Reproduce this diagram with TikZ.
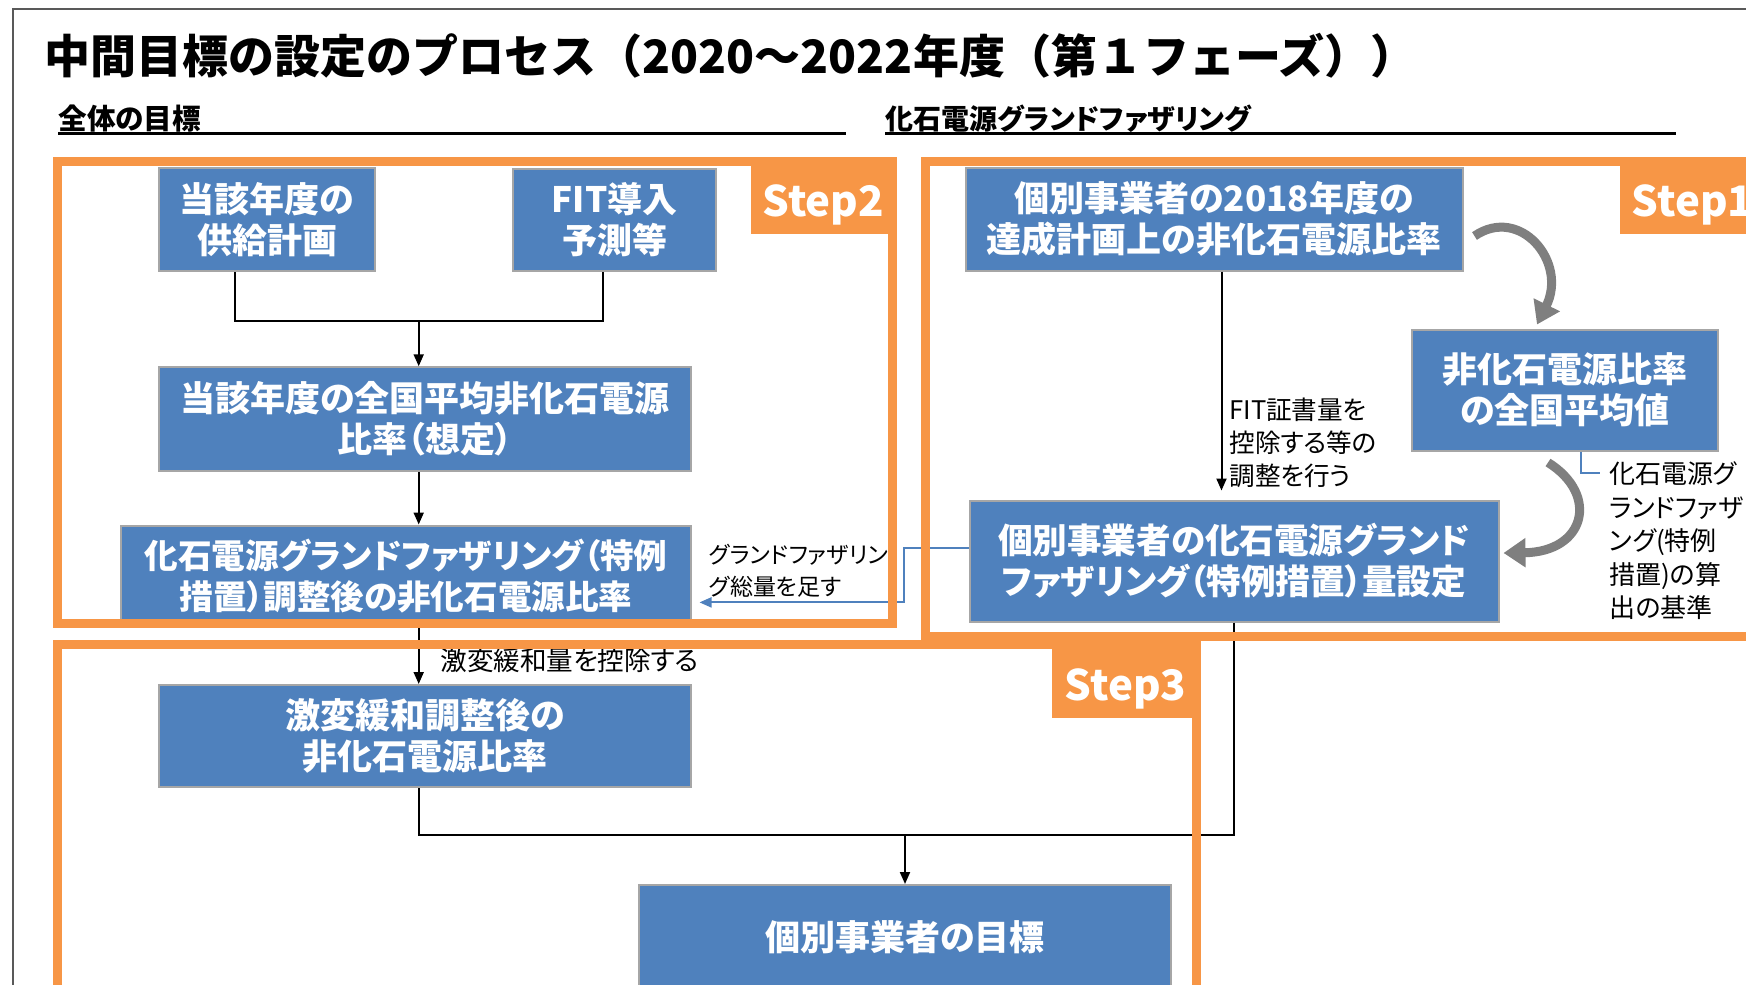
\documentclass[tikz,border=0pt]{standalone}
\usepackage{fontspec}
\setmainfont{Noto Sans CJK JP}[RawFeature=+palt]
\newfontfamily\titlefont{Noto Sans CJK JP}
\usetikzlibrary{arrows.meta,calc}
\definecolor{org}{HTML}{F79646}
\definecolor{bbl}{HTML}{4F81BD}
\definecolor{bdr}{HTML}{A6A6A6}
\definecolor{frm}{HTML}{595959}
\definecolor{arrg}{HTML}{7F7F7F}
\begin{document}
\begin{tikzpicture}[x=0.5pt,y=-0.5pt,
  box/.style={fill=bbl,draw=bdr,line width=1pt,text=white,font=\bfseries\fontsize{17.5}{20.5}\selectfont,align=center,inner sep=0pt},
  stepframe/.style={draw=org,line width=4.5pt},
  steplbl/.style={fill=org,text=white,font=\bfseries\fontsize{21}{24}\selectfont,inner sep=0pt},
  conn/.style={line width=1pt,black},
  arr/.style={conn,-{Triangle[length=6pt,width=5pt]}},
  barr/.style={draw=bbl,line width=1pt,-{Triangle[length=6pt,width=5pt]}},
  garr/.style={draw=arrg,line width=4.5pt,-{Triangle[length=11pt,width=14pt]}},
  lbl/.style={font=\fontsize{12.8}{16.5}\selectfont,align=left,inner sep=0pt,anchor=west},
]
\useasboundingbox (0,0) rectangle (1746,985);
% outer frame
\draw[frm,line width=1pt] (13.4,1000) |- (1760,8.9);
% title
\node[anchor=west,font=\titlefont\bfseries\fontsize{23}{26}\selectfont,inner sep=0pt] (T) at (44.5,55.7) {中間目標の設定のプロセス（2020～2022年度（第１フェーズ））};
\node[anchor=west,font=\bfseries\fontsize{14.3}{17}\selectfont,inner sep=0pt] (H1) at (58,119) {全体の目標};
\draw[line width=1.2pt] ($(H1.west)+(0,14.6)$) -- ++(788,0);
\node[anchor=west,font=\bfseries\fontsize{14}{17}\selectfont,inner sep=0pt] (H2) at (885,119) {化石電源グランドファザリング};
\draw[line width=1.2pt] ($(H2.west)+(0,14.6)$) -- ++(791,0);

% boxes
\node[box,minimum width=108pt,minimum height=51.5pt] (B1) at (267,219.5) {当該年度の\\供給計画};
\node[box,minimum width=101.5pt,minimum height=51pt] (B2) at (614.5,220) {FIT導入\\予測等};
\node[box,minimum width=266pt,minimum height=51.75pt] (B3) at (425,419) {当該年度の全国平均非化石電源\\比率（想定）};
\node[box,minimum width=285pt,minimum height=50.5pt,font=\bfseries\fontsize{16.8}{20.5}\selectfont] (B4) at (406,576) {化石電源グランドファザリング（特例\\措置）調整後の非化石電源比率};
\node[box,minimum width=266pt,minimum height=51pt] (B5) at (425,736) {激変緩和調整後の\\非化石電源比率};
\node[box,minimum width=266pt,minimum height=52pt] (B6) at (905,937) {個別事業者の目標};
\node[box,minimum width=248.5pt,minimum height=51.5pt] (B7) at (1214,219) {個別事業者の2018年度の\\達成計画上の非化石電源比率};
\node[box,minimum width=153pt,minimum height=60.5pt] (B8) at (1565,390) {非化石電源比率\\の全国平均値};
\node[box,minimum width=264.5pt,minimum height=60.5pt,font=\bfseries\fontsize{17.3}{20.5}\selectfont] (B9) at (1234,561) {個別事業者の化石電源グランド\\ファザリング（特例措置）量設定};

% connectors
\coordinate (j1) at (418.7,320.7);
\coordinate (j2) at (905,835);
\coordinate (k1) at (904,602.4);
\draw[conn] ($(B1.south)+(-32,0)$) |- (j1);
\draw[conn] ($(B2.south)+(-12,0)$) |- (j1);
\draw[arr] (j1) -- (B3.north -| j1);
\draw[arr] (B3.south -| j1) -- (B4.north -| j1);
\draw[arr] (B4.south -| j1) -- (B5.north -| j1);
\node[lbl,font=\fontsize{13.3}{16.5}\selectfont] (L3) at (440,660) {激変緩和量を控除する};
\draw[conn] (B5.south -| j1) |- (j2);
\draw[conn] (B9.south) |- (j2);
\draw[arr] (j2) -- (B6.north);
\draw[arr] ($(B7.south)+(7.5,0)$) -- ($(B9.north)+(-12.5,-9)$);
\node[lbl] (L1) at (1229,443) {FIT証書量を\\控除する等の\\調整を行う};
\draw[barr] ($(B9.west)+(0,-13)$) -| (k1) -- ($(B4.east|-k1)+(7.5,0)$);
\node[lbl,font=\fontsize{11.5}{16.25}\selectfont] (L2) at (709,571) {グランドファザリン\\グ総量を足す};
\draw[draw=bbl,line width=0.8pt] ($(B8.south)+(16,0)$) |- (1600,473) coordinate (c1);
\node[lbl,font=\fontsize{13}{16.75}\selectfont] (L4) at (1609,541) {化石電源グ\\ランドファザリ\\ング(特例\\措置)の算\\出の基準};
\draw[garr] ($(B7.east)+(11,17)$) .. controls (1520,205) and (1568,262) .. ($(B8.north)+(-28,-4)$);
\draw[garr] ($(B8.south)+(-17,11)$) .. controls (1600,495) and (1585,552) .. ($(B9.east)+(4,-8)$);

% step frames
\draw[stepframe] (57.4,161) rectangle (892.4,623);
\draw[stepframe] (925,161) rectangle (1770,636);
\draw[stepframe] (57.4,644) rectangle (1196,1000);
\node[steplbl,anchor=north east,minimum width=72.2pt,minimum height=38.5pt] (S2) at (896,157) {\raisebox{-10.5pt}[0pt][0pt]{Step2}};
\node[steplbl,anchor=north west,minimum width=72.2pt,minimum height=38.5pt] (S1) at (1620,157) {\raisebox{-10.5pt}[0pt][0pt]{Step1}};
\node[steplbl,anchor=north east,minimum width=74pt,minimum height=39pt] (S3) at (1200,640) {\raisebox{-10.5pt}[0pt][0pt]{Step3}};
\end{tikzpicture}
\end{document}
